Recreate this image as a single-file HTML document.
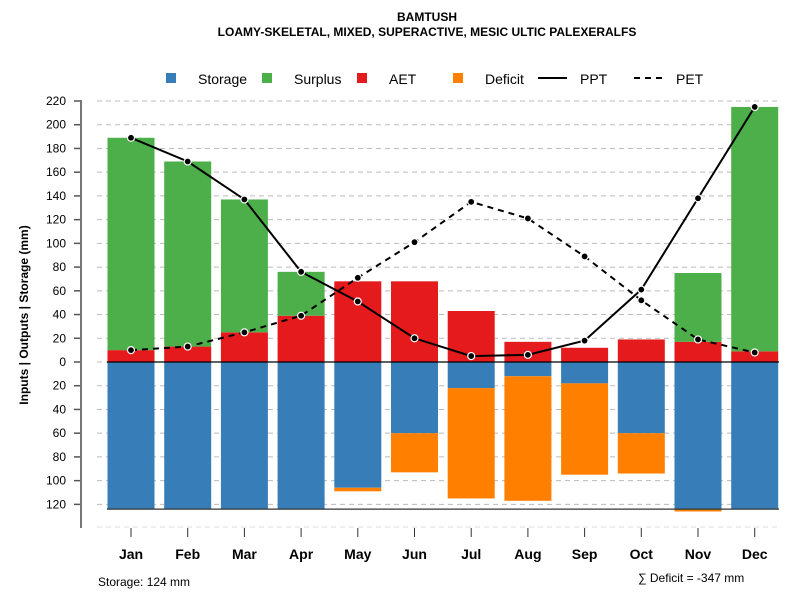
<!DOCTYPE html>
<html><head><meta charset="utf-8"><style>
body{margin:0;background:#fff;}
svg text{font-family:"Liberation Sans",Arial,sans-serif;}
</style></head><body>
<svg id="chart" width="800" height="600" viewBox="0 0 800 600">
<text x="427" y="21" text-anchor="middle" font-size="12" font-weight="bold">BAMTUSH</text>
<text x="427" y="36" text-anchor="middle" font-size="12" font-weight="bold">LOAMY-SKELETAL, MIXED, SUPERACTIVE, MESIC ULTIC PALEXERALFS</text>
<g>
<rect x="166" y="73" width="10" height="10" fill="#377eb8"/>
<text x="198" y="84" font-size="14">Storage</text>
<rect x="262" y="73" width="10" height="10" fill="#4daf4a"/>
<text x="294" y="84" font-size="14">Surplus</text>
<rect x="357" y="73" width="10" height="10" fill="#e41a1c"/>
<text x="389" y="84" font-size="14">AET</text>
<rect x="453" y="73" width="10" height="10" fill="#ff7f00"/>
<text x="485" y="84" font-size="14">Deficit</text>
<line x1="538" y1="78" x2="567" y2="78" stroke="#000" stroke-width="2"/>
<text x="580" y="84" font-size="14">PPT</text>
<line x1="634" y1="78" x2="663" y2="78" stroke="#000" stroke-width="2" stroke-dasharray="6,5"/>
<text x="676" y="84" font-size="14">PET</text>
</g>
<text transform="translate(28,315) rotate(-90)" text-anchor="middle" font-size="12" font-weight="bold">Inputs | Outputs | Storage    (mm)</text>
<text x="98" y="586" font-size="12">Storage: 124 mm</text>
<text x="638" y="582" font-size="12">∑ Deficit = -347 mm</text>
<g id="grid"></g><g id="bars"></g><g id="lines"></g><g id="axes"></g>
</svg>
<script>
const months=["Jan","Feb","Mar","Apr","May","Jun","Jul","Aug","Sep","Oct","Nov","Dec"];
const aet=[10,13,25,39,68,68,43,17,12,19,17,9];
const surplus=[179,156,112,37,0,0,0,0,0,0,58,206];
const storage=[124,124,124,124,106,60,22,12,18,60,124,124];
const deficit=[0,0,0,0,3,33,93,105,77,34,2,0];
const ppt=[189,169,137,76,51,20,5,6,18,61,138,215];
const pet=[10,13,25,39,71,101,135,121,89,52,19,8];
const yTicks=[220,200,180,160,140,120,100,80,60,40,20,0,20,40,60,80,100,120];
const yTickVals=[220,200,180,160,140,120,100,80,60,40,20,0,-20,-40,-60,-80,-100,-120];
const storageCap=124;
const NS="http://www.w3.org/2000/svg";
const y=v=>362-v*(261/220);
const x=i=>131+i*56.7;
const bw=47;
function mk(tag,attrs,parent){const e=document.createElementNS(NS,tag);for(const k in attrs)e.setAttribute(k,attrs[k]);document.getElementById(parent).appendChild(e);return e;}
yTickVals.forEach((v,i)=>{
 const g=mk("line",{x1:97,x2:780,y1:y(v),y2:y(v),stroke:"#bbb","stroke-dasharray":"5,4"},"grid");
 
 
 const t=mk("line",{x1:74,x2:81,y1:y(v),y2:y(v),stroke:"#555","stroke-width":1.5},"axes");
 
 
 const l=mk("text",{x:66,y:y(v)+4,"text-anchor":"end","font-size":12},"axes");
 l.textContent=yTicks[i];
 
 
});
const gb=mk("line",{x1:97,x2:780,y1:527,y2:527,stroke:"#ddd","stroke-dasharray":"5,4"},"grid");


months.forEach((m,i)=>{
 const cx=x(i),x0=cx-bw/2;
 const r1=mk("rect",{x:x0,y:y(aet[i]),width:bw,height:y(0)-y(aet[i]),fill:"#e41a1c"},"bars");
 
 
 if(surplus[i]>0){const r=mk("rect",{x:x0,y:y(aet[i]+surplus[i]),width:bw,height:y(aet[i])-y(aet[i]+surplus[i]),fill:"#4daf4a"},"bars");
 
 }
 const r2=mk("rect",{x:x0,y:y(0),width:bw,height:y(-storage[i])-y(0),fill:"#377eb8"},"bars");
 
 
 if(deficit[i]>0){const r=mk("rect",{x:x0,y:y(-storage[i]),width:bw,height:y(-storage[i]-deficit[i])-y(-storage[i]),fill:"#ff7f00"},"bars");
 
 }
 const t=mk("line",{x1:cx,x2:cx,y1:528,y2:537,stroke:"#333"},"axes");
 
 
 const l=mk("text",{x:cx,y:559,"text-anchor":"middle","font-size":14,"font-weight":"bold"},"axes");
 l.textContent=m;
 
 
});
const z=mk("line",{x1:107,x2:779,y1:y(0),y2:y(0),stroke:"#000","stroke-width":1.2},"lines");


const sc=mk("line",{x1:107,x2:779,y1:y(-storageCap),y2:y(-storageCap),stroke:"#333","stroke-width":1.2},"lines");


[[ppt,"ppt-line",""],[pet,"pet-line","6,5"]].forEach(([arr,name,da])=>{
 const p=mk("polyline",{points:arr.map((v,i)=>x(i)+","+y(v)).join(" "),fill:"none",stroke:"#000","stroke-width":2,"stroke-dasharray":da},"lines");
 
 
 arr.forEach((v,i)=>{const c=mk("circle",{cx:x(i),cy:y(v),r:3.5,fill:"#000",stroke:"#fff","stroke-width":1.2},"lines");
 
 });
});
const ax=mk("line",{x1:81,x2:81,y1:100,y2:528,stroke:"#777","stroke-width":2},"axes");


</script>
</body></html>
